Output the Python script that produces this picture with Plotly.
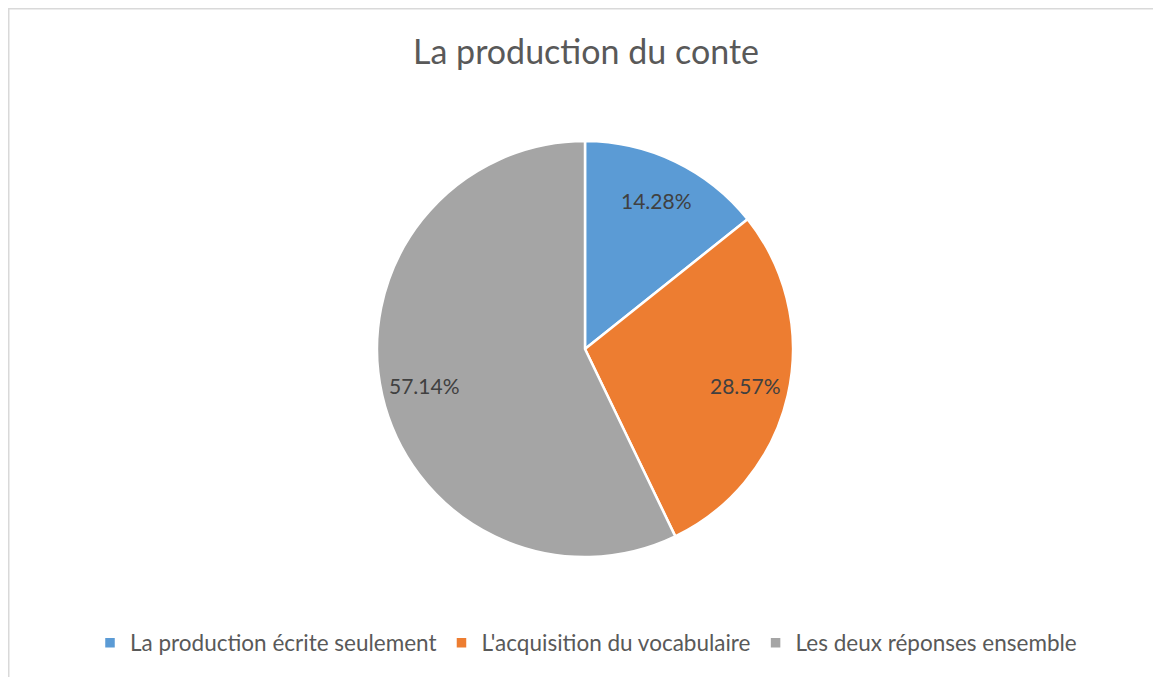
import math
import plotly.graph_objects as go

labels = ["La production écrite seulement", "L'acquisition du vocabulaire", "Les deux réponses ensemble"]
values = [14.28, 28.57, 57.14]
text_labels = ["14.28%", "28.57%", "57.14%"]
colors = ["#5B9BD5", "#ED7D31", "#A5A5A5"]

W, H = 1161, 677
# page body adds an 8px offset; positions below are in figure pixels
cx, cy, r = 577, 341, 208
label_r = 0.79 * r

fig = go.Figure(go.Pie(
    labels=labels,
    values=values,
    text=text_labels,
    textinfo="none",
    sort=False,
    direction="clockwise",
    rotation=0,
    marker=dict(colors=colors, line=dict(color="white", width=2.5)),
    domain=dict(x=[(cx - r) / W, (cx + r) / W], y=[1 - (cy + r) / H, 1 - (cy - r) / H]),
    hoverinfo="label+text",
))

# data labels placed along each slice's mid-angle (clockwise from 12 o'clock)
total = sum(values)
annotations = []
cum = 0.0
for v, t in zip(values, text_labels):
    mid = (cum + v / 2) / total * 2 * math.pi
    cum += v
    px = cx + label_r * math.sin(mid)
    py = cy - label_r * math.cos(mid)
    annotations.append(dict(x=px / W, y=1 - py / H, xref="paper", yref="paper", text=t,
                            showarrow=False, xanchor="center", yanchor="middle",
                            font=dict(family="Lato", size=21, color="#404040")))

fig.update_layout(
    width=W, height=H,
    margin=dict(l=0, r=0, t=0, b=0),
    paper_bgcolor="white",
    title=dict(text="La production du conte", x=578 / W, xanchor="center", y=1 - 44 / H, yanchor="middle",
               font=dict(family="Lato", size=34, color="#595959")),
    legend=dict(orientation="h", x=578 / W, xanchor="center", y=1 - 635 / H, yanchor="middle",
                font=dict(family="Lato", size=22.5, color="#595959"), itemwidth=30),
    annotations=annotations,
    shapes=[dict(type="rect", xref="paper", yref="paper", x0=0.75 / W, x1=1.02, y0=-0.02, y1=1 - 0.75 / H,
                 line=dict(color="#D9D9D9", width=1.5))],
)

fig.write_html("out.html")
